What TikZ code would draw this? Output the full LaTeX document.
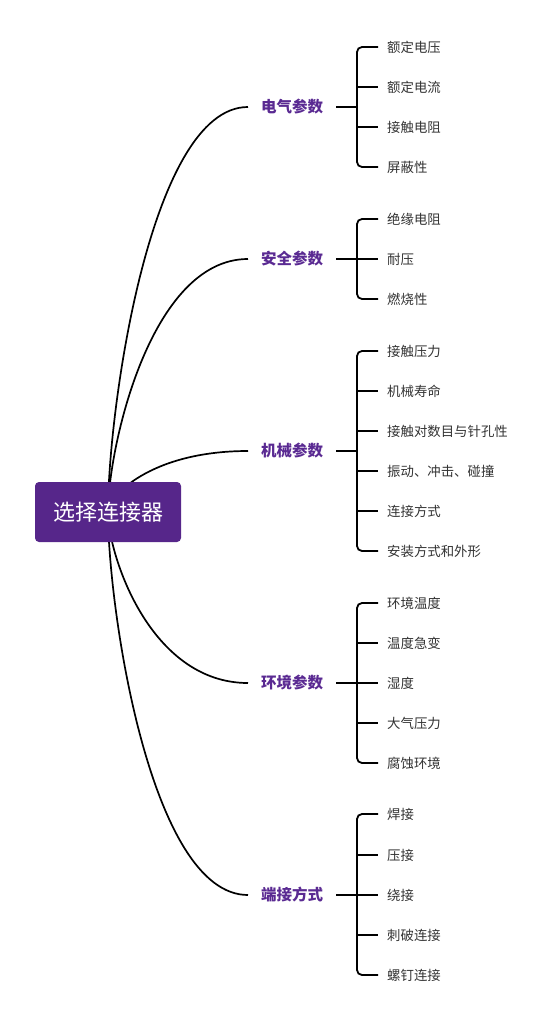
\documentclass[tikz,border=0pt]{standalone}
\usepackage{fontspec}
\setmainfont{Noto Sans CJK SC}
\usetikzlibrary{calc}
\definecolor{rootc}{HTML}{56268A}
\definecolor{branchc}{HTML}{5A2A92}
\definecolor{leafc}{HTML}{333333}
\begin{document}
\begin{tikzpicture}[x=1pt,y=-1pt,
  rootbox/.style={fill=rootc, rounded corners=4pt, text=white, font=\fontsize{22}{26}\selectfont, minimum width=146pt, minimum height=60pt, inner sep=0pt},
  branch/.style={text=branchc, font=\bfseries\fontsize{15.5}{18}\selectfont, anchor=west, inner sep=0pt},
  leaf/.style={text=leafc, font=\fontsize{13.4}{16}\selectfont, anchor=west, inner sep=0pt},
  link/.style={line width=1.7pt, black},
  brace/.style={line width=1.8pt, black, rounded corners=5pt}]
\useasboundingbox (0,0) rectangle (551,1024);

% branches
\node[branch] (b1) at (261,107) {电气参数};
\node[branch] (b2) at (261,259) {安全参数};
\node[branch] (b3) at (261,451) {机械参数};
\node[branch] (b4) at (261,683) {环境参数};
\node[branch] (b5) at (261,895) {端接方式};

% root position helper
\coordinate (rc) at (108,512);

% curves
\foreach \b in {b1,b2,b3,b4,b5}{
  \coordinate (\b in) at ([xshift=-13pt]\b.west);
  \draw[link] (rc) .. controls ($(rc)!0.25!(rc |- \b in)$) and ($(rc |- \b in)!0.3!(\b in)$) .. (\b in);
}

% root
\node[rootbox] (root) at (rc) {选择连接器};

% leaves
\foreach \n/\y/\t in {11/47/额定电压, 12/87/额定电流, 13/127/接触电阻, 14/167/屏蔽性,
  21/219/绝缘电阻, 22/259/耐压, 23/299/燃烧性,
  31/351/接触压力, 32/391/机械寿命, 33/431/接触对数目与针孔性, 34/471/振动、冲击、碰撞, 35/511/连接方式, 36/551/安装方式和外形,
  41/603/环境温度, 42/643/温度急变, 43/683/湿度, 44/723/大气压力, 45/763/腐蚀环境,
  51/814/焊接, 52/855/压接, 53/895/绕接, 54/935/刺破连接, 55/975/螺钉连接}
  \node[leaf] (l\n) at (387,\y) {\t};

% spines
\foreach \b/\f/\l/\mids in {1/11/14/{12,13}, 2/21/23/{22}, 3/31/36/{32,33,34,35}, 4/41/45/{42,43,44}, 5/51/55/{52,53,54}}{
  \coordinate (s\b) at (357,0);
  \draw[link] ([xshift=13pt]b\b.east) -- (s\b |- b\b.east);
  \draw[brace] ([xshift=-9pt]l\f.west) -- (s\b |- l\f.west) -- (s\b |- l\l.west) -- ([xshift=-9pt]l\l.west);
  \foreach \m in \mids
    \draw[link] (s\b |- l\m.west) -- ([xshift=-9pt]l\m.west);
}
\end{tikzpicture}
\end{document}
